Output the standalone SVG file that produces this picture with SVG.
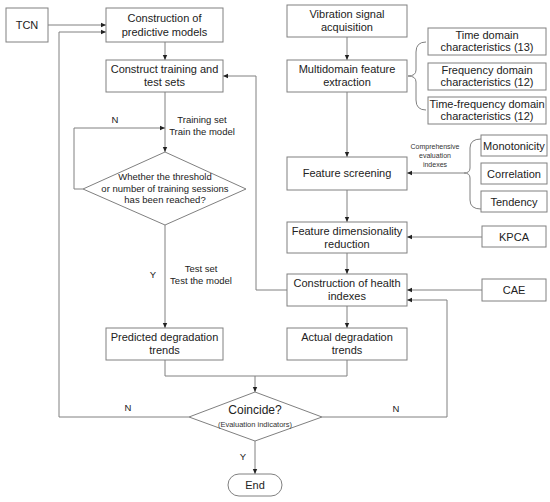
<svg xmlns="http://www.w3.org/2000/svg" width="550" height="502" viewBox="0 0 550 502">
<defs>
<marker id="ah" markerWidth="6" markerHeight="6" refX="5" refY="3" orient="auto" markerUnits="userSpaceOnUse">
<path d="M0,0.8 L5,3 L0,5.2 Z" fill="#222"/>
</marker>
<style>
.box{fill:#fff;stroke:#808080;stroke-width:1}
.t{font-family:"Liberation Sans",Arial,sans-serif;font-size:11px;fill:#222;text-anchor:middle}
.s{font-family:"Liberation Sans",Arial,sans-serif;font-size:9.5px;fill:#222;text-anchor:middle}
.xs{font-family:"Liberation Sans",Arial,sans-serif;font-size:7px;fill:#333;text-anchor:middle}
.c{fill:none;stroke:#808080;stroke-width:1}
.a{fill:none;stroke:#808080;stroke-width:1;marker-end:url(#ah)}
</style>
</defs>
<rect width="550" height="502" fill="#fff"/>

<g id="connectors">
<path class="a" d="M48,25 H106"/>
<path class="a" d="M189,417 H59 V32 H106"/>
<path class="a" d="M165,42 V60"/>
<path class="a" d="M165,92 V152"/>
<path class="a" d="M83,189 H74 V128 H165"/>
<path class="a" d="M165,225 V328"/>
<path class="a" d="M287,290 H256 V76 H223"/>
<path class="a" d="M347,37 V60"/>
<path class="a" d="M347,92 V157"/>
<path class="c" d="M426,42 Q416,42 416,52 V70 Q416,76 408,76 Q416,76 416,82 V100 Q416,110 426,110"/>
<path class="a" d="M347,190 V222"/>
<path class="c" d="M481,139 Q470,139 470,148 V168 Q470,173 464,173 Q470,173 470,178 V200 Q470,209 481,209"/>
<path class="a" d="M464,173 H407"/>
<path class="a" d="M482,237 H407"/>
<path class="a" d="M347,253 V274"/>
<path class="a" d="M482,290 H407"/>
<path class="a" d="M322,417 H447 V300 H407"/>
<path class="a" d="M347,306 V328"/>
<path class="c" d="M165,360 V376 H347 V360"/>
<path class="a" d="M255,376 V392"/>
<path class="a" d="M255,441 V474"/>
<text class="s" x="115" y="123">N</text>
<text class="s" x="202" y="123">Training set</text>
<text class="s" x="202" y="135">Train the model</text>
<text class="s" x="153" y="278">Y</text>
<text class="s" x="201" y="272">Test set</text>
<text class="s" x="201" y="284">Test the model</text>
<text class="xs" x="435" y="149">Comprehensive</text>
<text class="xs" x="435" y="158">evaluation</text>
<text class="xs" x="435" y="167">indexes</text>
<text class="s" x="128" y="411">N</text>
<text class="s" x="396" y="412">N</text>
<text class="s" x="243" y="460">Y</text>
</g>

<g id="tcn"><rect class="box" x="6" y="8" width="42" height="34"/><text class="t" x="27" y="29">TCN</text></g>
<g id="construct-models"><rect class="box" x="106" y="8" width="117" height="34"/><text class="t" x="164.5" y="22">Construction of</text><text class="t" x="164.5" y="36">predictive models</text></g>
<g id="train-test-sets"><rect class="box" x="106" y="60" width="117" height="32"/><text class="t" x="164.5" y="73">Construct training and</text><text class="t" x="164.5" y="86">test sets</text></g>
<g id="threshold"><polygon class="box" points="165,152 246,189 165,225 83,189"/><text class="s" x="165" y="180">Whether the threshold</text><text class="s" x="165" y="192">or number of training sessions</text><text class="s" x="165" y="203">has been reached?</text></g>
<g id="predicted"><rect class="box" x="106" y="328" width="117" height="32"/><text class="t" x="164.5" y="341">Predicted degradation</text><text class="t" x="164.5" y="354">trends</text></g>

<g id="vibration"><rect class="box" x="287" y="5" width="120" height="32"/><text class="t" x="347" y="18">Vibration signal</text><text class="t" x="347" y="31">acquisition</text></g>
<g id="multidomain"><rect class="box" x="287" y="60" width="120" height="32"/><text class="t" x="347" y="73">Multidomain feature</text><text class="t" x="347" y="86">extraction</text></g>
<g id="screening"><rect class="box" x="287" y="157" width="120" height="33"/><text class="t" x="347" y="177">Feature screening</text></g>
<g id="dim-reduction"><rect class="box" x="287" y="222" width="120" height="31"/><text class="t" x="347" y="235">Feature dimensionality</text><text class="t" x="347" y="248">reduction</text></g>
<g id="health"><rect class="box" x="287" y="274" width="120" height="32"/><text class="t" x="347" y="287">Construction of health</text><text class="t" x="347" y="300">indexes</text></g>
<g id="actual"><rect class="box" x="287" y="328" width="120" height="32"/><text class="t" x="347" y="341">Actual degradation</text><text class="t" x="347" y="354">trends</text></g>

<g id="time-domain"><rect class="box" x="428" y="28" width="118" height="27"/><text class="t" x="487" y="39">Time domain</text><text class="t" x="487" y="51">characteristics (13)</text></g>
<g id="freq-domain"><rect class="box" x="428" y="63" width="118" height="27"/><text class="t" x="487" y="74">Frequency domain</text><text class="t" x="487" y="86">characteristics (12)</text></g>
<g id="tf-domain"><rect class="box" x="428" y="97" width="118" height="27"/><text class="t" x="487" y="108">Time-frequency domain</text><text class="t" x="487" y="120">characteristics (12)</text></g>

<g id="monotonicity"><rect class="box" x="481" y="135" width="66" height="21"/><text class="t" x="514" y="149.5">Monotonicity</text></g>
<g id="correlation"><rect class="box" x="481" y="163" width="66" height="21"/><text class="t" x="514" y="177.5">Correlation</text></g>
<g id="tendency"><rect class="box" x="481" y="191" width="66" height="21"/><text class="t" x="514" y="205.5">Tendency</text></g>
<g id="kpca"><rect class="box" x="482" y="226" width="64" height="21"/><text class="t" x="514" y="240.5">KPCA</text></g>
<g id="cae"><rect class="box" x="482" y="279" width="64" height="22"/><text class="t" x="514" y="294">CAE</text></g>

<g id="coincide"><polygon class="box" points="255,392 322,417 255,441 189,417"/><text class="t" x="255" y="414" style="font-size:12px">Coincide?</text><text class="xs" x="255" y="427" style="font-size:7.5px">(Evaluation indicators)</text></g>
<g id="end"><rect class="box" x="228" y="474" width="54" height="22" rx="11"/><text class="t" x="255" y="489">End</text></g>
</svg>
